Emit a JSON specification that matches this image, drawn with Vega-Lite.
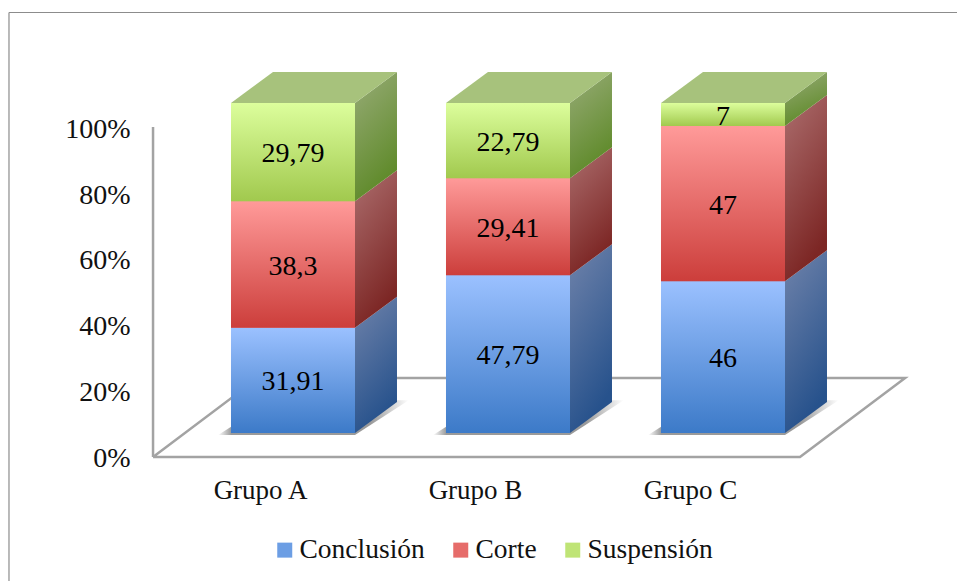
{
  "$schema": "https://vega.github.io/schema/vega-lite/v6.json",
  "width": 957,
  "height": 581,
  "padding": 0,
  "autosize": {"type": "none"},
  "background": "white",
  "config": {"view": {"stroke": null}, "style": {"cell": {"stroke": null}}},
  "layer": [
    {
      "data": {"values": [{}]},
      "mark": {"type": "rule", "stroke": "#8c8c8c", "strokeWidth": 1.2},
      "encoding": {
        "x": {"datum": -1.321, "type": "quantitative", "scale": {"domain": [-1.36279, 3.08837], "nice": false, "zero": false},
          "axis": {"orient": "bottom", "values": [0, 1, 2], "labelExpr": "['Grupo A','Grupo B','Grupo C'][datum.value]", "title": null, "grid": false, "domain": false, "ticks": false, "offset": -104, "labelPadding": 0, "labelOffset": -33, "labelFont": "Liberation Serif", "labelFontSize": 27, "labelColor": "#111", "labelBaseline": "top", "labelOverlap": false}},
        "y": {"datum": 134.7, "type": "quantitative", "scale": {"domain": [-37.576, 138.485], "nice": false, "zero": false},
          "axis": {"orient": "left", "values": [0, 20, 40, 60, 80, 100], "labelExpr": "datum.value + '%'", "title": null, "grid": false, "domain": false, "ticks": false, "offset": -130, "labelPadding": 0, "labelOffset": 2, "labelFont": "Liberation Serif", "labelFontSize": 28, "labelColor": "#111", "labelBaseline": "middle", "labelOverlap": false}},
        "y2": {"datum": -37.576}
      }
    },
    {
      "data": {"values": [{}]},
      "mark": {"type": "rule", "stroke": "#8c8c8c", "strokeWidth": 1.2},
      "encoding": {
        "x": {"datum": -1.321, "type": "quantitative"},
        "x2": {"datum": 3.08837},
        "y": {"datum": 134.7, "type": "quantitative"}
      }
    },
    {
      "data": {"values": [{}]},
      "mark": {"type": "rule", "stroke": "#a3a3a3", "strokeWidth": 2.5},
      "encoding": {
        "x": {"datum": -0.651, "type": "quantitative"},
        "y": {"datum": 0, "type": "quantitative"},
        "y2": {"datum": 100}
      }
    },
    {
      "data": {"values": [{"corner": 0}, {"corner": 1}, {"corner": 2}, {"corner": 3}, {"corner": 4}]},
      "transform": [
        {"calculate": "[-0.651, 2.358, 2.847, -0.163, -0.651][datum.corner]", "as": "floorX"},
        {"calculate": "[0, 0, 23.94, 23.94, 0][datum.corner]", "as": "floorY"}
      ],
      "mark": {"type": "line", "stroke": "#a3a3a3", "strokeWidth": 2.5},
      "encoding": {
        "x": {"field": "floorX", "type": "quantitative"},
        "y": {"field": "floorY", "type": "quantitative"},
        "order": {"field": "corner", "type": "ordinal"}
      }
    },
    {
      "data": {
        "values": [
          {"grupo": "Grupo A", "pos": 0, "serie": "Conclusión", "valor": 31.91},
          {"grupo": "Grupo A", "pos": 0, "serie": "Corte", "valor": 38.3},
          {"grupo": "Grupo A", "pos": 0, "serie": "Suspensión", "valor": 29.79},
          {"grupo": "Grupo B", "pos": 1, "serie": "Conclusión", "valor": 47.79},
          {"grupo": "Grupo B", "pos": 1, "serie": "Corte", "valor": 29.41},
          {"grupo": "Grupo B", "pos": 1, "serie": "Suspensión", "valor": 22.79},
          {"grupo": "Grupo C", "pos": 2, "serie": "Conclusión", "valor": 46},
          {"grupo": "Grupo C", "pos": 2, "serie": "Corte", "valor": 47},
          {"grupo": "Grupo C", "pos": 2, "serie": "Suspensión", "valor": 7}
        ]
      },
      "transform": [
        {"stack": "valor", "groupby": ["grupo"], "sort": [{"field": "serie", "order": "ascending"}], "as": ["base", "tope"]},
        {"calculate": "datum.base + 7.27", "as": "yLow"},
        {"calculate": "datum.tope + 7.27", "as": "yHigh"},
        {"calculate": "datum.pos - 0.2884", "as": "xLeft"},
        {"calculate": "datum.pos + 0.2884", "as": "xRight"},
        {"calculate": "[0, 1]", "as": "edges"}
      ],
      "layer": [
        {
          "transform": [
            {"filter": "datum.serie === 'Conclusión'"},
            {"flatten": ["edges"], "as": ["edge"]},
            {"calculate": "datum.xLeft - 0.06 + datum.edge * 0.2553", "as": "sx"},
            {"calculate": "datum.xRight + datum.edge * 0.25", "as": "sx2"},
            {"calculate": "6.7 + datum.edge * 10.5", "as": "sy"}
          ],
          "mark": {
            "type": "area", "orient": "horizontal",
            "fill": {"gradient": "linear", "x1": 0, "y1": 0, "x2": 1, "y2": 0, "stops": [
              {"offset": 0, "color": "#ffffff"},
              {"offset": 0.07, "color": "#9a9a9a"},
              {"offset": 0.8, "color": "#9a9a9a"},
              {"offset": 1, "color": "#ffffff"}
            ]}
          },
          "encoding": {
            "x": {"field": "sx", "type": "quantitative"},
            "x2": {"field": "sx2"},
            "y": {"field": "sy", "type": "quantitative"},
            "detail": {"field": "grupo"}
          }
        },
        {
          "transform": [
            {"flatten": ["edges"], "as": ["edge"]},
            {"calculate": "datum.xRight + datum.edge * 0.1953", "as": "sideX"},
            {"calculate": "datum.yLow + datum.edge * 9.39", "as": "sideLow"},
            {"calculate": "datum.yHigh + datum.edge * 9.39", "as": "sideHigh"}
          ],
          "mark": {"type": "area", "orient": "vertical"},
          "encoding": {
            "x": {"field": "sideX", "type": "quantitative"},
            "y": {"field": "sideLow", "type": "quantitative"},
            "y2": {"field": "sideHigh"},
            "detail": [{"field": "grupo"}, {"field": "serie"}],
            "fill": {
              "condition": [
                {"test": "datum.serie === 'Conclusión'", "value": {"gradient": "linear", "x1": 0, "y1": 0.1, "x2": 0.3, "y2": 1, "stops": [{"offset": 0, "color": "#6a7fa8"}, {"offset": 1, "color": "#27528c"}]}},
                {"test": "datum.serie === 'Corte'", "value": {"gradient": "linear", "x1": 0, "y1": 0.1, "x2": 0.3, "y2": 1, "stops": [{"offset": 0, "color": "#a86868"}, {"offset": 1, "color": "#7c2624"}]}}
              ],
              "value": {"gradient": "linear", "x1": 0, "y1": 0.1, "x2": 0.3, "y2": 1, "stops": [{"offset": 0, "color": "#93a971"}, {"offset": 1, "color": "#5f8a2a"}]}
            }
          }
        },
        {
          "transform": [
            {"filter": "datum.serie === 'Suspensión'"},
            {"flatten": ["edges"], "as": ["edge"]},
            {"calculate": "datum.xLeft + datum.edge * 0.1953", "as": "capX"},
            {"calculate": "datum.xRight + datum.edge * 0.1953", "as": "capX2"},
            {"calculate": "datum.yHigh + datum.edge * 9.39", "as": "capY"}
          ],
          "mark": {"type": "area", "orient": "horizontal", "fill": "#a7c27c"},
          "encoding": {
            "x": {"field": "capX", "type": "quantitative"},
            "x2": {"field": "capX2"},
            "y": {"field": "capY", "type": "quantitative"},
            "detail": {"field": "grupo"}
          }
        },
        {
          "mark": {"type": "rect"},
          "encoding": {
            "x": {"field": "xLeft", "type": "quantitative"},
            "x2": {"field": "xRight"},
            "y": {"field": "yLow", "type": "quantitative"},
            "y2": {"field": "yHigh"},
            "color": {
              "field": "serie", "type": "nominal",
              "scale": {
                "domain": ["Conclusión", "Corte", "Suspensión"],
                "range": ["#6c9ee4", "#e66c6a", "#bfe476"]
              },
              "legend": {
                "title": null, "orient": "none", "legendX": 271, "legendY": 536, "direction": "horizontal", "columns": 3,
                "symbolType": "square", "symbolSize": 225, "symbolStrokeWidth": 0, "symbolOpacity": 1,
                "labelFont": "Liberation Serif", "labelFontSize": 27.5, "labelColor": "#111", "labelOffset": 1, "columnPadding": 22, "labelLimit": 300,
                "encoding": {
                  "symbols": {
                    "fill": {
                      "condition": [
                        {"test": "datum.value === 'Conclusión'", "value": {"gradient": "linear", "x1": 0, "y1": 0, "x2": 0, "y2": 1, "stops": [{"offset": 0, "color": "#9bc1ff"}, {"offset": 1, "color": "#3c7ac8"}]}},
                        {"test": "datum.value === 'Corte'", "value": {"gradient": "linear", "x1": 0, "y1": 0, "x2": 0, "y2": 1, "stops": [{"offset": 0, "color": "#ff9a99"}, {"offset": 1, "color": "#cc3e3b"}]}}
                      ],
                      "value": {"gradient": "linear", "x1": 0, "y1": 0, "x2": 0, "y2": 1, "stops": [{"offset": 0, "color": "#dcfe9c"}, {"offset": 1, "color": "#a1c94e"}]}
                    }
                  }
                }
              }
            }
          }
        },
        {
          "mark": {"type": "rect"},
          "encoding": {
            "x": {"field": "xLeft", "type": "quantitative"},
            "x2": {"field": "xRight"},
            "y": {"field": "yLow", "type": "quantitative"},
            "y2": {"field": "yHigh"},
            "fill": {
              "condition": [
                {"test": "datum.serie === 'Conclusión'", "value": {"gradient": "linear", "x1": 0, "y1": 0, "x2": 0, "y2": 1, "stops": [{"offset": 0, "color": "#9bc1ff"}, {"offset": 1, "color": "#3c7ac8"}]}},
                {"test": "datum.serie === 'Corte'", "value": {"gradient": "linear", "x1": 0, "y1": 0, "x2": 0, "y2": 1, "stops": [{"offset": 0, "color": "#ff9a99"}, {"offset": 1, "color": "#cc3e3b"}]}}
              ],
              "value": {"gradient": "linear", "x1": 0, "y1": 0, "x2": 0, "y2": 1, "stops": [{"offset": 0, "color": "#dcfe9c"}, {"offset": 1, "color": "#a1c94e"}]}
            }
          }
        },
        {
          "transform": [
            {"calculate": "(datum.yLow + datum.yHigh) / 2", "as": "yMid"},
            {"calculate": "replace(toString(datum.valor), '.', ',')", "as": "etiqueta"}
          ],
          "mark": {"type": "text", "font": "Liberation Serif", "fontSize": 28, "color": "#000", "align": "center", "baseline": "middle", "dy": 2},
          "encoding": {
            "x": {"field": "pos", "type": "quantitative"},
            "y": {"field": "yMid", "type": "quantitative"},
            "text": {"field": "etiqueta", "type": "nominal"}
          }
        }
      ]
    }
  ]
}
